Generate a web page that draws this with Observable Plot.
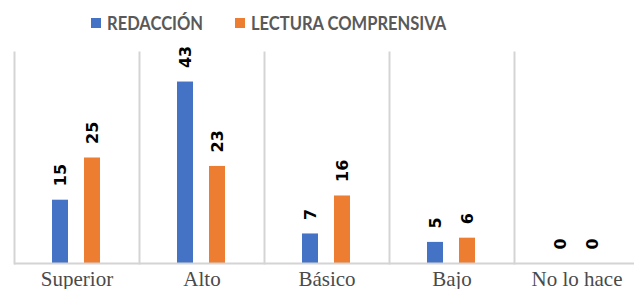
<!DOCTYPE html>
<html>
<head>
<meta charset="utf-8">
<script src="https://cdn.jsdelivr.net/npm/d3@7"></script>
<script src="https://cdn.jsdelivr.net/npm/@observablehq/plot@0.6"></script>
<style>
  html, body { margin: 0; padding: 0; background: #fff; width: 634px; height: 289px; overflow: hidden; }
  #legend { height: 40px; position: relative; font-family: Lato, "Open Sans", sans-serif; font-weight: bold; font-size: 19px; color: #595959; }
  .item { position: absolute; top: 11px; display: flex; align-items: center; }
  .sw { width: 10px; height: 10px; margin-right: 6px; }
  .lbl { display: inline-block; transform: scaleX(0.87); transform-origin: left center; white-space: nowrap; }
  #chart svg { display: block; }
</style>
</head>
<body>
<div id="legend"></div>
<div id="chart"></div>
<script>
const categories = ["Superior", "Alto", "Básico", "Bajo", "No lo hace"];
const series = ["REDACCIÓN", "LECTURA COMPRENSIVA"];
const redaccion = [15, 43, 7, 5, 0];
const lectura = [25, 23, 16, 6, 0];
const colors = ["#4472C4", "#ED7D31"];

const data = [];
categories.forEach((c, i) => {
  data.push({category: c, series: series[0], value: redaccion[i]});
  data.push({category: c, series: series[1], value: lectura[i]});
});

// Legend
const legend = document.getElementById("legend");
const lefts = [91, 235];
series.forEach((s, i) => {
  const it = document.createElement("div");
  it.className = "item";
  it.style.left = lefts[i] + "px";
  const sw = document.createElement("span");
  sw.className = "sw";
  sw.style.background = colors[i];
  const t = document.createElement("span");
  t.className = "lbl";
  t.textContent = s;
  it.appendChild(sw);
  it.appendChild(t);
  legend.appendChild(it);
});

const chart = Plot.plot({
  width: 634,
  height: 249,
  marginLeft: 13,
  marginRight: -6,
  marginTop: 12,
  marginBottom: 26,
  style: {background: "#fff"},
  fx: {domain: categories, padding: 0, label: null, tickSize: 0, tickPadding: 8},
  x: {domain: series, paddingInner: 0.485, paddingOuter: 1.144, axis: null},
  y: {domain: [0, 50], axis: null},
  color: {domain: series, range: colors},
  marks: [
    Plot.frame({anchor: "left", stroke: "#d4d4d4", strokeWidth: 2, strokeOpacity: 1}),
    Plot.barY(data, {fx: "category", x: "series", y: "value", fill: "series"}),
    Plot.text(data, {fx: "category", x: "series", y: "value", text: d => String(d.value), rotate: -90, textAnchor: "start", dy: -14, fontWeight: "bold", fontSize: 16, fontFamily: "DejaVu Sans", fill: "#000"}),
    Plot.ruleY([0], {stroke: "#d4d4d4", strokeWidth: 2})
  ]
});
chart.style.fontFamily = "Liberation Serif";
document.getElementById("chart").appendChild(chart);

// facet axis labels styling
chart.querySelectorAll('[aria-label="fx-axis tick label"] text').forEach(t => {
  t.setAttribute("font-size", "21");
  t.setAttribute("fill", "#4a4a4a");
});
</script>
</body>
</html>
